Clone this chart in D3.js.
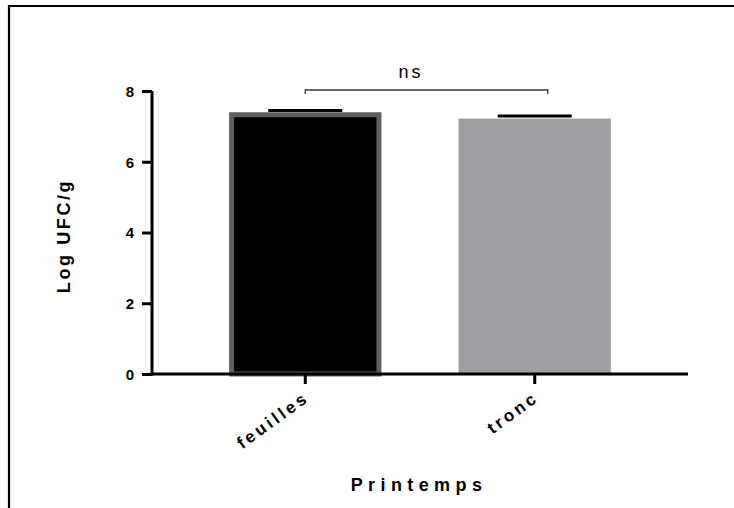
<!DOCTYPE html>
<html><head><meta charset="utf-8">
<script src="https://cdn.jsdelivr.net/npm/d3@7"></script>
<style>
body{margin:0;background:#fff;}
svg text{font-family:"Liberation Sans",Arial,sans-serif;}
</style></head>
<body><svg id="chart" width="734" height="508"></svg>
<script>
const categories = ["feuilles", "tronc"];
const means = [7.40, 7.22];
const sems = [0.05, 0.07];
const fills = ["#000000", "#a19fa4"];
const strokes = ["#5f5f5f", "#a19fa4"];
const yTicks = [0, 2, 4, 6, 8];
const xTitle = "Printemps";
const yTitle = "Log UFC/g";
const sigLabel = "ns";

const svg = d3.select("#chart");
// outer frame
svg.append("path").attr("d", "M9,508V6H734").attr("fill", "none").attr("stroke", "#000").attr("stroke-width", 2.2);

const x = d3.scaleBand().domain(categories).range([152, 688]).paddingInner(0.336).paddingOuter(0.336);
const y = d3.scaleLinear().domain([0, 8]).range([374, 91]);

// bars
const bw = x.bandwidth();
categories.forEach((c, i) => {
  const sw = i === 0 ? 5 : 0;
  svg.append("rect")
    .attr("x", x(c) + sw / 2).attr("y", y(means[i]) + sw / 2)
    .attr("width", bw - sw).attr("height", y(0) - y(means[i]) - sw / 2)
    .attr("fill", fills[i]).attr("stroke", strokes[i]).attr("stroke-width", sw);
  // error bar cap
  const cx = x(c) + bw / 2;
  svg.append("line")
    .attr("x1", cx - 37).attr("x2", cx + 37)
    .attr("y1", y(means[i] + sems[i])).attr("y2", y(means[i] + sems[i]))
    .attr("stroke", "#000").attr("stroke-width", 3);
});

// axes
const yAxis = d3.axisLeft(y).tickValues(yTicks).tickSize(10).tickSizeOuter(0).tickPadding(8);
const gy = svg.append("g").attr("transform", "translate(152,0)").call(yAxis);
gy.select(".domain").attr("stroke-width", 3).attr("d", `M0,${y(8)}V${y(0) + 1.5}`);
gy.selectAll(".tick line").attr("stroke-width", 3);
gy.selectAll(".tick text").attr("font-size", 15).attr("font-weight", "bold").attr("fill", "#000")
  .attr("font-family", "Liberation Sans, Arial, sans-serif").attr("dy", "0.36em");

const xAxis = d3.axisBottom(x).tickSize(10).tickSizeOuter(0).tickFormat("");
const gx = svg.append("g").attr("transform", "translate(0,374)").call(xAxis);
gx.select(".domain").attr("stroke-width", 3).attr("d", "M150.5,0H688");
gx.selectAll(".tick line").attr("stroke-width", 3);

// category labels
categories.forEach(c => {
  const cx = x(c) + bw / 2;
  svg.append("text")
    .attr("transform", `translate(${cx + 5},${400}) rotate(-36)`)
    .attr("text-anchor", "end")
    .attr("font-size", 17).attr("font-weight", "bold").attr("letter-spacing", 3.2)
    .text(c);
});

// titles
svg.append("text").attr("x", 419).attr("y", 491).attr("text-anchor", "middle")
  .attr("font-size", 18).attr("font-weight", "bold").attr("letter-spacing", 5.4).text(xTitle);
svg.append("text").attr("transform", "translate(70,236) rotate(-90)").attr("text-anchor", "middle")
  .attr("font-size", 18).attr("font-weight", "bold").attr("letter-spacing", 2.6).text(yTitle);

// significance bracket
const x1 = x(categories[0]) + bw / 2, x2 = x(categories[1]) + bw / 2 + 13;
svg.append("path").attr("d", `M${x1},94V90H${x2}V94`).attr("fill", "none").attr("stroke", "#333").attr("stroke-width", 1.3);
svg.append("text").attr("x", 411).attr("y", 78).attr("text-anchor", "middle")
  .attr("font-size", 18).attr("letter-spacing", 3).text(sigLabel);
</script></body></html>
